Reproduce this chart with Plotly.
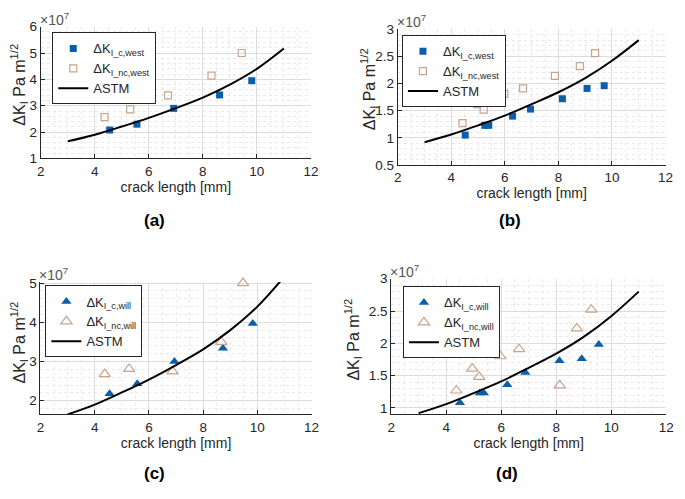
import plotly.graph_objects as go

# ---------------- data (values in units of 1e7 Pa m^1/2) ----------------
# panel (a): west method, specimen 1
a_c_x = [4.55, 5.56, 6.92, 8.62, 9.81]
a_c_y = [2.08, 2.30, 2.90, 3.41, 3.95]
a_nc_x = [4.36, 5.31, 6.71, 8.32, 9.44]
a_nc_y = [2.57, 2.86, 3.39, 4.14, 5.00]

# panel (b): west method, specimen 2
b_c_x = [4.52, 5.25, 5.40, 6.29, 6.96, 8.15, 9.07, 9.71]
b_c_y = [1.05, 1.23, 1.23, 1.40, 1.53, 1.72, 1.91, 1.96]
b_nc_x = [4.42, 4.97, 5.21, 5.98, 6.68, 7.87, 8.80, 9.37]
b_nc_y = [1.27, 1.62, 1.52, 1.81, 1.91, 2.14, 2.32, 2.56]

# panel (c): will method, specimen 1
c_c_x = [4.55, 5.57, 6.94, 8.73, 9.83]
c_c_y = [2.18, 2.43, 3.00, 3.34, 3.97]
c_nc_x = [4.37, 5.27, 6.87, 8.67, 9.47]
c_nc_y = [2.68, 2.81, 2.75, 3.50, 5.00]

# panel (d): will method, specimen 2
d_c_x = [4.50, 5.22, 5.37, 6.22, 6.88, 8.12, 8.93, 9.55]
d_c_y = [1.08, 1.23, 1.23, 1.36, 1.55, 1.73, 1.76, 1.98]
d_nc_x = [4.37, 4.95, 5.20, 5.97, 6.65, 8.13, 8.75, 9.28]
d_nc_y = [1.27, 1.61, 1.48, 1.80, 1.91, 1.35, 2.23, 2.52]

# ASTM curves
astm_x = [3, 4, 5, 6, 7, 8, 9, 10, 11]
astm1_y = [1.65, 1.90, 2.21, 2.54, 2.91, 3.31, 3.80, 4.40, 5.17]
astm2_y = [0.92, 1.06, 1.23, 1.41, 1.62, 1.84, 2.10, 2.42, 2.80]

x_ticks = [2, 4, 6, 8, 10, 12]
panel_labels = ["(a)", "(b)", "(c)", "(d)"]
y_title = "ΔK<sub>I</sub> Pa m<sup>1/2</sup>"
x_title = "crack length [mm]"

# ---------------- styling ----------------
OFF = 8  # default body margin of the html page
W, H = 685 - OFF, 499 - OFF
BLUE = "#0a5fa8"
TAN = "#c9a48c"
AXC = "#262626"
FONT = "Arial, Liberation Sans, sans-serif"


def px2dom_x(a, b):
    return [(a - OFF) / W, (b - OFF) / W]


def px2dom_y(top, bottom):
    return [1 - (bottom - OFF) / H, 1 - (top - OFF) / H]


panels = [
    dict(dx=px2dom_x(37.3, 312.3), dy=px2dom_y(20, 156),
         yr=[1, 6], ymin=0.2, ytv=[1, 2, 3, 4, 5, 6],
         cx=a_c_x, cy=a_c_y, nx=a_nc_x, ny=a_nc_y, ay=astm1_y,
         sym_c="square", sym_nc="square-open", lab_c="west",
         leg=(49, 26), lab_y=220, yt=(15, 80)),
    dict(dx=px2dom_x(400.7, 673.3), dy=px2dom_y(22.7, 162.7),
         yr=[0.5, 3], ymin=0.1, ytv=[0.5, 1, 1.5, 2, 2.5, 3],
         cx=b_c_x, cy=b_c_y, nx=b_nc_x, ny=b_nc_y, ay=astm2_y,
         sym_c="square", sym_nc="square-open", lab_c="west",
         leg=(405, 29), lab_y=220, yt=(371, 85)),
    dict(dx=px2dom_x(37, 313), dy=px2dom_y(283.3, 420),
         yr=[1.65, 5.03], ymin=0.2, ytv=[2, 3, 4, 5],
         cx=c_c_x, cy=c_c_y, nx=c_nc_x, ny=c_nc_y, ay=astm1_y,
         sym_c="triangle-up", sym_nc="triangle-up-open", lab_c="will",
         leg=(42, 287), lab_y=481, yt=(15, 346)),
    dict(dx=px2dom_x(394, 674), dy=px2dom_y(280, 420),
         yr=[0.9, 3.0], ymin=0.1, ytv=[1, 1.5, 2, 2.5, 3],
         cx=d_c_x, cy=d_c_y, nx=d_nc_x, ny=d_nc_y, ay=astm2_y,
         sym_c="triangle-up", sym_nc="triangle-up-open", lab_c="will",
         leg=(406, 288), lab_y=481, yt=(355, 343)),
]

fig = go.Figure()
annotations = []
layout = {}

for i, p in enumerate(panels):
    k = "" if i == 0 else str(i + 1)
    xa, ya = "x" + k, "y" + k
    lg = "legend" + k
    is_sq = p["sym_c"] == "square"
    fig.add_trace(go.Scatter(
        x=p["cx"], y=p["cy"], mode="markers", xaxis=xa, yaxis=ya, legend=lg,
        name="ΔK<sub>I_c," + p["lab_c"] + "</sub>", cliponaxis=False,
        marker=dict(symbol=p["sym_c"], color=BLUE, size=7 if is_sq else 9,
                    line=dict(width=0)),
    ))
    fig.add_trace(go.Scatter(
        x=p["nx"], y=p["ny"], mode="markers", xaxis=xa, yaxis=ya, legend=lg,
        name="ΔK<sub>I_nc," + p["lab_c"] + "</sub>", cliponaxis=False,
        marker=dict(symbol=p["sym_nc"], color=TAN, size=7 if is_sq else 10,
                    line=dict(width=1.2, color=TAN)),
    ))
    fig.add_trace(go.Scatter(
        x=astm_x, y=p["ay"], mode="lines", xaxis=xa, yaxis=ya, legend=lg,
        name="ASTM", line=dict(color="black", width=2, shape="spline"),
    ))

    axcommon = dict(
        showline=True, linecolor=AXC, linewidth=1, ticks="inside", ticklen=4,
        tickcolor=AXC, tickfont=dict(family=FONT, size=13.5, color=AXC),
        showgrid=True, gridcolor="#dcdcdc", gridwidth=1, zeroline=False,
        mirror=False, ticklabeloverflow="allow",
    )
    layout["xaxis" + k] = dict(
        axcommon, domain=p["dx"], anchor=ya, range=[2, 12],
        tickvals=x_ticks, ticktext=[str(v) for v in x_ticks],
        minor=dict(dtick=0.5, tick0=2, showgrid=True, gridcolor="#eaeaea",
                   griddash="dot", ticks=""),
        title=dict(text=x_title, standoff=4,
                   font=dict(family=FONT, size=14, color=AXC)),
    )
    layout["yaxis" + k] = dict(
        axcommon, domain=p["dy"], anchor=xa, range=p["yr"],
        tickvals=p["ytv"], ticktext=[("%g" % v) for v in p["ytv"]],
        minor=dict(dtick=p["ymin"], tick0=0, showgrid=True,
                   gridcolor="#eaeaea", griddash="dot", ticks=""),
    )
    layout[lg] = dict(
        x=(p["leg"][0] - OFF) / W, y=1 - (p["leg"][1] - OFF) / H,
        xanchor="left", yanchor="top", bgcolor="white", bordercolor=AXC,
        borderwidth=1, font=dict(family=FONT, size=13, color=AXC),
        itemwidth=30, tracegroupgap=0,
    )
    # y-axis title
    annotations.append(dict(
        text=y_title, xref="paper", yref="paper",
        x=(p["yt"][0] - OFF) / W, y=1 - (p["yt"][1] - OFF) / H,
        xanchor="center", yanchor="middle", textangle=-90, showarrow=False,
        font=dict(family=FONT, size=16, color=AXC),
    ))
    # exponent label
    annotations.append(dict(
        text="×10<sup>7</sup>", xref=xa + " domain", yref=ya + " domain",
        x=0.0, y=1.0, xanchor="left", yanchor="bottom", showarrow=False,
        yshift=-3, xshift=-3,
        font=dict(family=FONT, size=14, color="#555555"),
    ))
    # panel label
    annotations.append(dict(
        text="<b>" + panel_labels[i] + "</b>", xref=xa + " domain",
        yref="paper", x=0.42, y=1 - (p["lab_y"] - OFF) / H,
        xanchor="center", yanchor="middle", showarrow=False,
        font=dict(family=FONT, size=17, color="black"),
    ))

fig.update_layout(
    width=W, height=H, margin=dict(l=0, r=0, t=0, b=0),
    paper_bgcolor="white", plot_bgcolor="white",
    font=dict(family=FONT, color=AXC), annotations=annotations,
    showlegend=True, **layout,
)

fig.write_html("out.html")
